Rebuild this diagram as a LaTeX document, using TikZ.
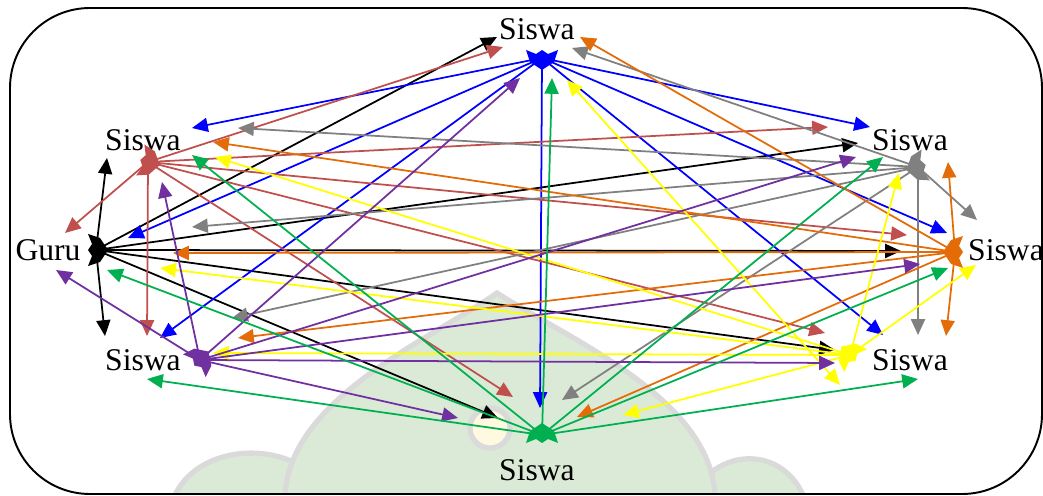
\documentclass[tikz,border=0pt]{standalone}
\usepackage{fontspec}
\setmainfont{Liberation Serif}
\usetikzlibrary{arrows.meta}

\definecolor{redbrown}{RGB}{192,80,77}
\definecolor{orng}{RGB}{227,108,9}
\definecolor{purp}{RGB}{112,48,160}
\definecolor{grn}{RGB}{0,176,80}
\definecolor{gry}{RGB}{128,128,128}
\definecolor{ylw}{RGB}{255,255,0}
\definecolor{wmgreen}{RGB}{218,234,214}
\definecolor{wmgray}{RGB}{218,218,218}
\definecolor{wmyellow}{RGB}{255,249,224}

\tikzset{
  arr/.style={line width=1pt,-{Triangle[length=9pt,width=8pt]}},
  twoway/.style={line width=1pt,{Triangle[length=9pt,width=8pt]}-{Triangle[length=9pt,width=8pt]}},
  lbl/.style={font=\fontsize{18}{20}\selectfont,inner sep=0pt},
  wm/.style={fill=wmgreen,draw=wmgray,line width=3pt},
}
% filled knot where the arrows of one person leave
\newcommand\hubblob[3]{%
  \fill[#3,shift={(#1)},rotate=#2] (-16,-8)--(-6,-4)--(0,-8)--(6,-4)--(16,-8)--(12,4)--(0,12)--(-12,4)--cycle;}

\begin{document}
\begin{tikzpicture}[x=0.02cm,y=-0.02cm]
		\useasboundingbox (0,0) rectangle (1043,496);
		% faint logo behind
		\begin{scope}
			\clip (10,8) rectangle (1042,494);
			\draw[wm] (173,500) .. controls (195,440) and (300,435) .. (335,500);
			\draw[wm] (690,500) .. controls (715,445) and (785,445) .. (805,500);
			\draw[wm] (285,500) .. controls (285,400) and (430,340) .. (497,293) .. controls (570,340) and (715,400) .. (715,500);
			\draw[fill=wmyellow,draw=wmgray,line width=3pt] (490,428) circle (20);
		\end{scope}
		\draw[line width=1.1pt,rounded corners=1.6cm] (10,8) rectangle (1042,494);
		%
		\node[lbl] (guru) at (48,250) {Guru};
		\node[lbl] (sT) at (537,29) {Siswa};
		\node[lbl] (sTL) at (143,140) {Siswa};
		\node[lbl] (sTR) at (910,140) {Siswa};
		\node[lbl] (sR) at (1006,250) {Siswa};
		\node[lbl] (sBR) at (910,360) {Siswa};
		\node[lbl] (sBL) at (143,360) {Siswa};
		\node[lbl] (sB) at (537,470) {Siswa};
		%
		\coordinate (hG) at (96,250);
		\coordinate (hT) at (542,58);
		\coordinate (hTL) at (148,162);
		\coordinate (hTR) at (918,167);
		\coordinate (hR) at (955,252);
		\coordinate (hBR) at (850,355);
		\coordinate (hBL) at (200,360);
		\coordinate (hB) at (542,435);
		%
		% guru
		\foreach \t/\x/\y in {T/497/37,TL/107/158,TR/858/143,R/901/251,BR/835/350,BL/105/336,B/498/418}{
			\coordinate (G-\t) at (\x,\y);
			\draw[arr,black] (hG) -- (G-\t);
		}
		% siswa atas
		\foreach \t/\x/\y in {G/128/238,TL/192/128,TR/870/127,R/947/233,BR/883/335,BL/160/338,B/540/408}{
			\coordinate (T-\t) at (\x,\y);
			\draw[arr,blue] (hT) -- (T-\t);
		}
		% siswa kiri atas
		\foreach \t/\x/\y in {G/65/233,T/503/47,TR/828/127,R/907/235,BR/825/333,BL/147/336,B/513/397}{
			\coordinate (TL-\t) at (\x,\y);
			\draw[arr,redbrown] (hTL) -- (TL-\t);
		}
		% siswa kanan atas
		\foreach \t/\x/\y in {G/192/227,T/572/48,TL/238/128,R/977/220,BR/918/335,BL/232/318,B/562/400}{
			\coordinate (TR-\t) at (\x,\y);
			\draw[arr,gry] (hTR) -- (TR-\t);
		}
		% siswa kanan
		\foreach \t/\x/\y in {G/173/253,T/580/37,TL/213/142,TR/948/162,BR/946/336,BL/238/338,B/577/417}{
			\coordinate (R-\t) at (\x,\y);
			\draw[arr,orng] (hR) -- (R-\t);
		}
		% siswa kanan bawah
		\foreach \t/\x/\y in {G/160/268,TL/215/157,TR/899/173,R/976/265,BL/213/353,B/623/415}{
			\coordinate (BR-\t) at (\x,\y);
			\draw[arr,ylw] (hBR) -- (BR-\t);
		}
		\coordinate (BR-T) at (567,80);
		\coordinate (BR-T0) at (840,385);
		\draw[twoway,ylw] (BR-T) -- (BR-T0);
		% siswa kiri bawah
		\foreach \t/\x/\y in {G/56/270,T/520/78,TL/162/182,TR/856/157,R/920/264,BR/835/363,B/458/418}{
			\coordinate (BL-\t) at (\x,\y);
			\draw[arr,purp] (hBL) -- (BL-\t);
		}
		% siswa bawah
		\foreach \t/\x/\y in {G/107/270,T/552/78,TL/192/155,TR/883/157,R/948/268,BR/918/379,BL/147/379}{
			\coordinate (B-\t) at (\x,\y);
			\draw[arr,grn] (hB) -- (B-\t);
		}
		%
		\hubblob{hG}{90}{black}
		\hubblob{hT}{0}{blue}
		\hubblob{hTL}{75}{redbrown}
		\hubblob{hTR}{-75}{gry}
		\hubblob{hR}{-90}{orng}
		\hubblob{hBR}{-135}{ylw}
		\hubblob{hBL}{135}{purp}
		\hubblob{hB}{180}{grn}
	\end{tikzpicture}
\end{document}
